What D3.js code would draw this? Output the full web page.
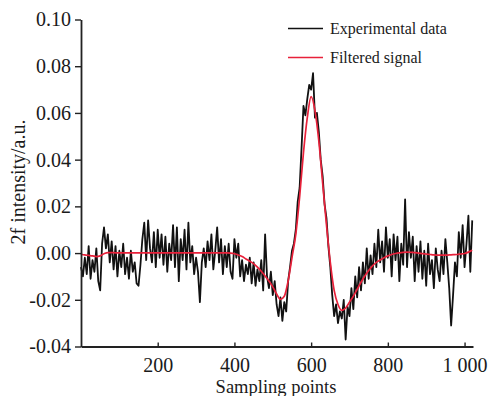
<!DOCTYPE html>
<html lang="en">
<head>
  <meta charset="UTF-8">
  <script src="https://d3js.org/d3.v7.min.js"></script>
  <title>2f signal</title>
  <style>
    body { margin: 0; background: #fff; }
    text { font-family: "Liberation Serif", "Times New Roman", serif; fill: #1a1a1a; }
  </style>
</head>
<body>
  <svg style="width:494px;height:396px"></svg>
  <script>
    // experimental data, one value every 5 sampling points (0 .. 1020)
    const rawStep = 5;
    const rawValues = [
      -0.006, -0.010, -0.002, -0.009, 0.003, -0.011, -0.003, -0.008, 0.002, -0.012,
      -0.016, 0.004, 0.011, 0.002, 0.008, -0.004, 0.005, -0.007, 0.003, -0.010,
      0.001, -0.006, 0.004, -0.009, -0.002, -0.011, 0.001, -0.008, -0.004, -0.013,
      -0.014, -0.005, 0.006, 0.013, -0.003, 0.014, 0.002, -0.004, 0.009, -0.006,
      0.010, -0.002, 0.008, -0.005, 0.007, -0.008, 0.004, -0.003, 0.012, -0.006,
      0.011, -0.012, 0.006, -0.003, 0.010, -0.007, 0.013, -0.004, 0.003, -0.009,
      -0.002, -0.008, -0.021, -0.004, 0.002, -0.006, 0.005, -0.003, 0.008, -0.007,
      0.001, 0.011, -0.004, 0.006, -0.009, 0.003, -0.006, 0.004, -0.008, -0.011,
      0.006, -0.002, 0.004, -0.010, -0.003, -0.012, -0.005, -0.009, -0.002, -0.013,
      -0.004, -0.014, -0.007, -0.012, -0.003, -0.016, 0.008, -0.010, -0.015, -0.008,
      -0.018, -0.012, -0.022, -0.027, -0.019, -0.029, -0.021, -0.025, -0.012, -0.006,
      0.001, 0.004, 0.010, 0.022, 0.028, 0.045, 0.063, 0.059, 0.066, 0.072,
      0.070, 0.077, 0.058, 0.060, 0.052, 0.040, 0.033, 0.021, 0.015, 0.003,
      -0.006, -0.018, -0.027, -0.022, -0.030, -0.025, -0.028, -0.020, -0.037, -0.023,
      -0.027, -0.015, -0.024, -0.010, -0.019, -0.006, -0.016, -0.004, -0.013, 0.002,
      -0.011, -0.001, -0.009, 0.004, -0.006, 0.010, -0.004, 0.005, -0.008, 0.011,
      -0.002, 0.006, -0.010, 0.008, -0.003, 0.007, -0.012, 0.004, -0.005, 0.023,
      -0.006, 0.009, -0.002, 0.007, -0.012, 0.003, -0.008, 0.005, -0.011, 0.001,
      -0.014, 0.004, -0.009, -0.003, -0.015, 0.002, -0.007, -0.012, 0.001, -0.009,
      0.006, -0.004, -0.015, -0.031, -0.018, -0.004, -0.010, 0.009, -0.002, 0.012,
      -0.006, 0.004, 0.016, -0.008, 0.014
    ];

    // filtered signal, one value every 10 sampling points (0 .. 1020)
    const filtStep = 10;
    const filtValues = [
      -0.0005, -0.0008, -0.0010, -0.0012, -0.0015, -0.0012, -0.0003, 0.0002, 0.0002, 0.0001,
      0.0001, 0.0001, 0.0001, 0.0001, 0.0001, 0.0001, 0.0001, 0.0001, 0.0001, 0.0001,
      0.0001, 0.0001, 0.0001, 0.0001, 0.0001, 0.0001, 0.0001, 0.0001, 0.0001, 0.0001,
      0.0001, 0.0001, 0.0001, 0.0001, 0.0001, 0.0001, 0.0001, 0.0001, 0.0001, 0.0000,
      -0.0003, -0.0008, -0.0015, -0.0025, -0.0035, -0.0045, -0.0060, -0.0078, -0.0098, -0.0120,
      -0.0145, -0.0175, -0.0198, -0.0185, -0.0120, -0.0020, 0.0080, 0.0240, 0.0430, 0.0580,
      0.0670, 0.0610, 0.0480, 0.0300, 0.0120, -0.0040, -0.0160, -0.0220, -0.0245, -0.0235,
      -0.0210, -0.0185, -0.0155, -0.0125, -0.0098, -0.0075, -0.0055, -0.0040, -0.0030, -0.0020,
      -0.0012, -0.0006, -0.0002, 0.0001, 0.0003, 0.0004, 0.0003, 0.0002, 0.0000, -0.0002,
      -0.0004, -0.0006, -0.0008, -0.0009, -0.0009, -0.0009, -0.0008, -0.0007, -0.0006, -0.0004,
      -0.0002, 0.0004, 0.0012
    ];

    const yTicks = [-0.04, -0.02, 0.00, 0.02, 0.04, 0.06, 0.08, 0.10];
    const xTicks = [200, 400, 600, 800, 1000];
    const xTickLabels = ["200", "400", "600", "800", "1 000"];
    const legendNames = ["Experimental data", "Filtered signal"];
    const legendColors = ["#111", "#e8213a"];

    const svg = d3.select("svg");

    const x = d3.scaleLinear().domain([0, 1022]).range([81, 473]);
    const y = d3.scaleLinear().domain([-0.04, 0.10]).range([346.5, 19.5]);

    // 실험 데이터 (검정) - 굵게 해서 잡음 띠처럼 보이게
    const line = d3.line()
      .x((d, i) => x(i * rawStep))
      .y(d => y(d));
    svg.append("path")
      .datum(rawValues)
      .attr("d", line)
      .attr("fill", "none")
      .attr("stroke", legendColors[0])
      .attr("stroke-width", 1.8)
      .attr("stroke-linejoin", "round");

    // 필터 신호 (빨강)
    const fline = d3.line()
      .x((d, i) => x(i * filtStep))
      .y(d => y(d))
      .curve(d3.curveMonotoneX);
    svg.append("path")
      .datum(filtValues)
      .attr("d", fline)
      .attr("fill", "none")
      .attr("stroke", legendColors[1])
      .attr("stroke-width", 1.7);

    // y axis - 바깥쪽 눈금
    const yAxis = d3.axisLeft(y)
      .tickValues(yTicks)
      .tickSizeInner(6)
      .tickSizeOuter(0)
      .tickPadding(4)
      .tickFormat(d => d3.format(".2f")(d).replace("−", "-"));
    svg.append("g")
      .attr("transform", "translate(81,0)")
      .call(yAxis);

    // x axis - 안쪽 눈금
    const xAxis = d3.axisBottom(x)
      .tickValues(xTicks)
      .tickSizeInner(-4)
      .tickSizeOuter(0)
      .tickFormat((d, i) => xTickLabels[i]);
    const gx = svg.append("g")
      .attr("transform", "translate(0,346.5)")
      .call(xAxis);
    gx.selectAll("text").attr("y", 25).attr("dy", 0);

    svg.selectAll(".domain").attr("stroke", "#222").attr("stroke-width", 1.8);
    svg.selectAll(".tick line").attr("stroke", "#222").attr("stroke-width", 1.4);
    svg.selectAll(".tick text")
      .attr("font-size", 20)
      .attr("font-family", "'Liberation Serif', 'Times New Roman', serif")
      .attr("fill", "#1a1a1a");

    // axis titles
    svg.append("text")
      .attr("x", 276)
      .attr("y", 392.5)
      .attr("text-anchor", "middle")
      .attr("font-size", 18.5)
      .text("Sampling points");

    svg.append("text")
      .attr("transform", "translate(25,182) rotate(-90)")
      .attr("text-anchor", "middle")
      .attr("font-size", 20)
      .text("2f intensity/a.u.");

    // legend
    const lg = svg.append("g");
    legendNames.forEach((name, i) => {
      const ly = 28.5 + i * 29;
      lg.append("line")
        .attr("x1", 288).attr("x2", 323)
        .attr("y1", ly).attr("y2", ly)
        .attr("stroke", legendColors[i])
        .attr("stroke-width", 1.6);
      lg.append("text")
        .attr("x", 330)
        .attr("y", ly + 5)
        .attr("font-size", 16)
        .text(name);
    });
  </script>
</body>
</html>
